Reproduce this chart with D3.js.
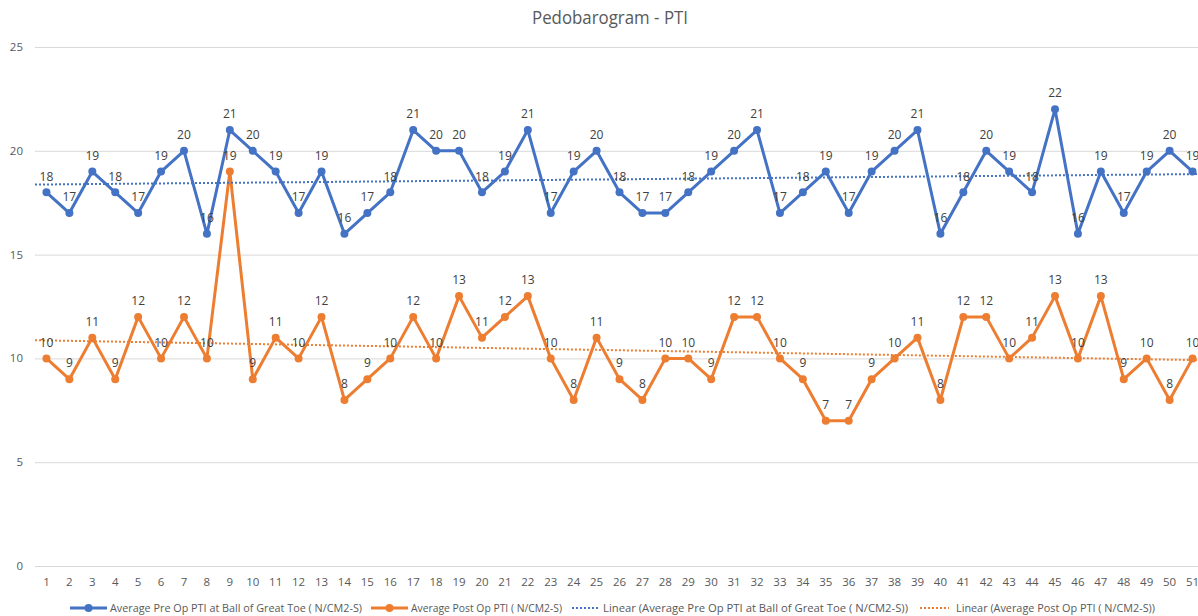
<!DOCTYPE html>
<html>
<head>
<meta charset="utf-8">
<script src="https://cdn.jsdelivr.net/npm/d3@7"></script>
<style>
  body { margin: 0; background: #fff; }
  svg { display: block; font-family: "Open Sans", "Liberation Sans", sans-serif; }
</style>
</head>
<body>
<div id="chart"></div>
<script>
// chart values
var title = "Pedobarogram - PTI";
var categories = [1,2,3,4,5,6,7,8,9,10,11,12,13,14,15,16,17,18,19,20,21,22,23,24,25,26,
  27,28,29,30,31,32,33,34,35,36,37,38,39,40,41,42,43,44,45,46,47,48,49,50,51];
var preOp = [18,17,19,18,17,19,20,16,21,20,19,17,19,16,17,18,21,20,20,18,19,21,17,19,20,18,
  17,17,18,19,20,21,17,18,19,17,19,20,21,16,18,20,19,18,22,16,19,17,19,20,19];
var postOp = [10,9,11,9,12,10,12,10,19,9,11,10,12,8,9,10,12,10,13,11,12,13,10,8,11,9,
  8,10,10,9,12,12,10,9,7,7,9,10,11,8,12,12,10,11,13,10,13,9,10,8,10];
var yTicks = [0,5,10,15,20,25];
var seriesNames = [
  "Average Pre Op PTI at Ball of Great Toe ( N/CM2-S)",
  "Average Post Op PTI ( N/CM2-S)",
  "Linear (Average Pre Op PTI at Ball of Great Toe ( N/CM2-S))",
  "Linear (Average Post Op PTI ( N/CM2-S))"
];

var W = 1198, H = 616;
var blue = "#4472C4", orange = "#ED7D31";

var svg = d3.select("#chart").append("svg").attr("width", W).attr("height", H);
svg.append("rect").attr("width", W).attr("height", H).attr("fill", "#fff");

// plot area runs off the right edge like the reference crop
var x = d3.scaleLinear().domain([0.5, categories.length + 0.5]).range([35, 1204]);
var y = d3.scaleLinear().domain([0, 25]).range([566, 47]);

// gridlines
svg.append("g").selectAll("line").data(yTicks).join("line")
  .attr("x1", 35).attr("x2", W)
  .attr("y1", d => y(d) + 0.5).attr("y2", d => y(d) + 0.5)
  .attr("stroke", "#d9d9d9").attr("stroke-width", 1);

// y labels
svg.append("g").selectAll("text").data(yTicks).join("text")
  .attr("x", 23).attr("y", d => y(d)).attr("dy", "0.35em")
  .attr("text-anchor", "end").attr("font-size", 11.5).attr("fill", "#595959")
  .text(d => d);

// x labels
svg.append("g").selectAll("text").data(categories).join("text")
  .attr("x", d => x(d)).attr("y", 582).attr("dy", "0.35em")
  .attr("text-anchor", "middle").attr("font-size", 11.5).attr("fill", "#595959")
  .text(d => d);

// title
svg.append("text").attr("x", 610).attr("y", 18).attr("dy", "0.35em")
  .attr("text-anchor", "middle").attr("font-size", 18).attr("fill", "#595959")
  .attr("textLength", 156).attr("lengthAdjust", "spacingAndGlyphs")
  .text(title);

function linearFit(vals) {
  var n = vals.length, sx = 0, sy = 0, sxy = 0, sxx = 0;
  vals.forEach((v, i) => {
    var xi = categories[i];
    sx += xi; sy += v; sxy += xi * v; sxx += xi * xi;
  });
  var b = (n * sxy - sx * sy) / (n * sxx - sx * sx);
  var a = (sy - b * sx) / n;
  return t => a + b * t;
}

var line = d3.line().x(d => x(d[0])).y(d => y(d[1]));

function drawSeries(vals, color) {
  var pts = vals.map((v, i) => [categories[i], v]);
  svg.append("path").datum(pts).attr("d", line)
    .attr("fill", "none").attr("stroke", color).attr("stroke-width", 3)
    .attr("stroke-linejoin", "round").attr("stroke-linecap", "round");
  svg.append("g").selectAll("circle").data(pts).join("circle")
    .attr("cx", d => x(d[0])).attr("cy", d => y(d[1])).attr("r", 4)
    .attr("fill", color);
}

function drawTrend(vals, color) {
  var f = linearFit(vals);
  var ends = [categories[0] - 0.5, categories[categories.length - 1] + 0.5];
  svg.append("path").datum(ends.map(t => [t, f(t)])).attr("d", line)
    .attr("fill", "none").attr("stroke", color).attr("stroke-width", 2)
    .attr("stroke-dasharray", "2,2");
}

function drawLabels(vals) {
  svg.append("g").selectAll("text").data(vals).join("text")
    .attr("x", (d, i) => x(categories[i])).attr("y", d => y(d) - 16).attr("dy", "0.35em")
    .attr("text-anchor", "middle").attr("font-size", 12).attr("fill", "#404040")
    .text(d => d);
}

drawSeries(preOp, blue);
drawSeries(postOp, orange);
drawTrend(preOp, blue);
drawTrend(postOp, orange);
drawLabels(preOp);
drawLabels(postOp);

// legend
var legY = 608;
var legend = [
  {name: seriesNames[0], color: blue, marker: true, x0: 70, x1: 107, tx: 110, tw: 252},
  {name: seriesNames[1], color: orange, marker: true, x0: 371, x1: 408, tx: 411, tw: 151},
  {name: seriesNames[2], color: blue, marker: false, x0: 572, x1: 599, tx: 603, tw: 305},
  {name: seriesNames[3], color: orange, marker: false, x0: 920, x1: 949, tx: 956, tw: 199}
];
var lg = svg.append("g").selectAll("g").data(legend).join("g");
lg.append("line")
  .attr("x1", d => d.x0).attr("x2", d => d.x1).attr("y1", legY).attr("y2", legY)
  .attr("stroke", d => d.color)
  .attr("stroke-width", d => d.marker ? 3 : 2)
  .attr("stroke-dasharray", d => d.marker ? null : "2,2");
lg.filter(d => d.marker).append("circle")
  .attr("cx", d => (d.x0 + d.x1) / 2).attr("cy", legY).attr("r", 4)
  .attr("fill", d => d.color);
lg.append("text")
  .attr("x", d => d.tx).attr("y", legY).attr("dy", "0.35em")
  .attr("font-size", 11.5).attr("fill", "#595959")
  .attr("textLength", d => d.tw).attr("lengthAdjust", "spacingAndGlyphs")
  .text(d => d.name);
</script>
</body>
</html>
